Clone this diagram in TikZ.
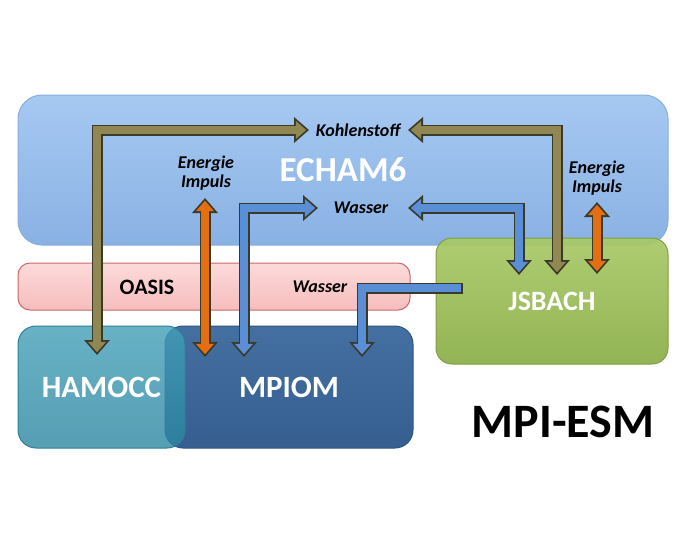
\documentclass[tikz,border=0pt]{standalone}
\usepackage{fontspec}
\setmainfont{Carlito}
\usetikzlibrary{arrows.meta}

\definecolor{echamtop}{HTML}{A6C9F2}
\definecolor{echambot}{HTML}{89B1E3}
\definecolor{echamline}{HTML}{88AEDD}
\definecolor{oasistop}{HTML}{FCDADA}
\definecolor{oasisbot}{HTML}{F6BDBD}
\definecolor{oasisline}{HTML}{C96A68}
\definecolor{jsbtop}{HTML}{A8C966}
\definecolor{jsbbot}{HTML}{8AAE46}
\definecolor{jsbline}{HTML}{7F9F42}
\definecolor{hamtop}{HTML}{429FB8}
\definecolor{hambot}{HTML}{2C86A0}
\definecolor{hamline}{HTML}{2F7F96}
\definecolor{mpitop}{HTML}{446FA1}
\definecolor{mpibot}{HTML}{365F90}
\definecolor{mpiline}{HTML}{2E5484}
\definecolor{olivearrow}{HTML}{918753}
\definecolor{orangearrow}{HTML}{E46F10}
\definecolor{bluearrow}{HTML}{5A8FD6}
\definecolor{rimgray}{HTML}{3A3A2A}

\tikzset{
  compbox/.style={rounded corners=#1, line width=1pt, text=white,
    font=\fontsize{31}{36}\selectfont\bfseries},
  flux/.style={font=\fontsize{18}{19}\selectfont\bfseries\itshape, align=center},
  rim/.style={line width=11pt, draw=rimgray, line join=miter,
    >={Triangle[width=25pt,length=15pt]}},
  core/.style={line width=7.5pt, draw=#1, line join=miter,
    >={Triangle[width=17.5pt,length=10.5pt]}},
}

\begin{document}
\begin{tikzpicture}[x=1pt, y=-1pt]
  \fill[white] (0,0) rectangle (690,550);

  % model boxes
  \node[compbox=24pt, top color=echamtop, bottom color=echambot, draw=echamline,
    minimum width=650pt, minimum height=150pt,
    font=\fontsize{35}{40}\selectfont\bfseries] (echam) at (343,170) {ECHAM6};
  \node[compbox=12pt, top color=oasistop, bottom color=oasisbot, draw=oasisline,
    minimum width=392pt, minimum height=47pt] (oasis) at (214,286.5) {};
  \node[font=\fontsize{22}{24}\selectfont\bfseries] (oasistxt) at (147,287) {OASIS};
  \node[flux] (wasseroasis) at (320,287) {Wasser};

  \node[compbox=18pt, top color=mpitop, bottom color=mpibot, draw=mpiline,
    minimum width=248pt, minimum height=122pt] (mpiom) at (289,387) {MPIOM};
  \node[compbox=18pt, top color=hamtop, bottom color=hambot, draw=hamline,
    fill opacity=0.8, text opacity=1,
    minimum width=167pt, minimum height=122pt] (hamocc) at (101.5,387) {HAMOCC};
  \node[compbox=16pt, top color=jsbtop, bottom color=jsbbot, draw=jsbline,
    fill opacity=0.92, text opacity=1, font=\fontsize{28}{32}\selectfont\bfseries,
    minimum width=232pt, minimum height=126pt] (jsbach) at (552,301) {JSBACH};

  \node[font=\fontsize{48}{50}\selectfont\bfseries] (mpiesm) at (563,422) {MPI-ESM};

  % fluxes
  \node[flux] (kohle) at (358,130) {Kohlenstoff};
  \node[flux] (wasser) at (361,208) {Wasser};
  \node[flux] (enleft) at (206,173) {Energie\\Impuls};
  \node[flux] (enright) at (597,178) {Energie\\Impuls};

  \coordinate (k1) at (309,130);
  \coordinate (k2) at (408,130);
  \coordinate (w1) at (318,208);
  \coordinate (w2) at (408,208);
  \coordinate (e1) at (205,198);
  \coordinate (e2) at (597,202);
  \coordinate (h) at (97,355);
  \coordinate (m1) at (205,357);
  \coordinate (m2) at (244,357);
  \coordinate (m3) at (362,357);
  \coordinate (j1) at (519,275);
  \coordinate (j2) at (557,275);
  \coordinate (j3) at (597,274);
  \coordinate (j4) at (463,288);

  \draw[rim, <->] (k1) -| (h);
  \draw[core=olivearrow, <->, shorten <=2.7pt, shorten >=2.7pt] (k1) -| (h);
  \draw[rim, <->] (k2) -| (j2);
  \draw[core=olivearrow, <->, shorten <=2.7pt, shorten >=2.7pt] (k2) -| (j2);

  \draw[rim, <->] (e1) -- (m1);
  \draw[core=orangearrow, <->, shorten <=2.7pt, shorten >=2.7pt] (e1) -- (m1);
  \draw[rim, <->] (e2) -- (j3);
  \draw[core=orangearrow, <->, shorten <=2.7pt, shorten >=2.7pt] (e2) -- (j3);

  \draw[rim, <->] (w1) -| (m2);
  \draw[core=bluearrow, <->, shorten <=2.7pt, shorten >=2.7pt] (w1) -| (m2);
  \draw[rim, <->] (w2) -| (j1);
  \draw[core=bluearrow, <->, shorten <=2.7pt, shorten >=2.7pt] (w2) -| (j1);
  \draw[rim, ->] (j4) -| (m3);
  \draw[core=bluearrow, ->, shorten <=1.75pt, shorten >=2.7pt] (j4) -| (m3);
\end{tikzpicture}
\end{document}
